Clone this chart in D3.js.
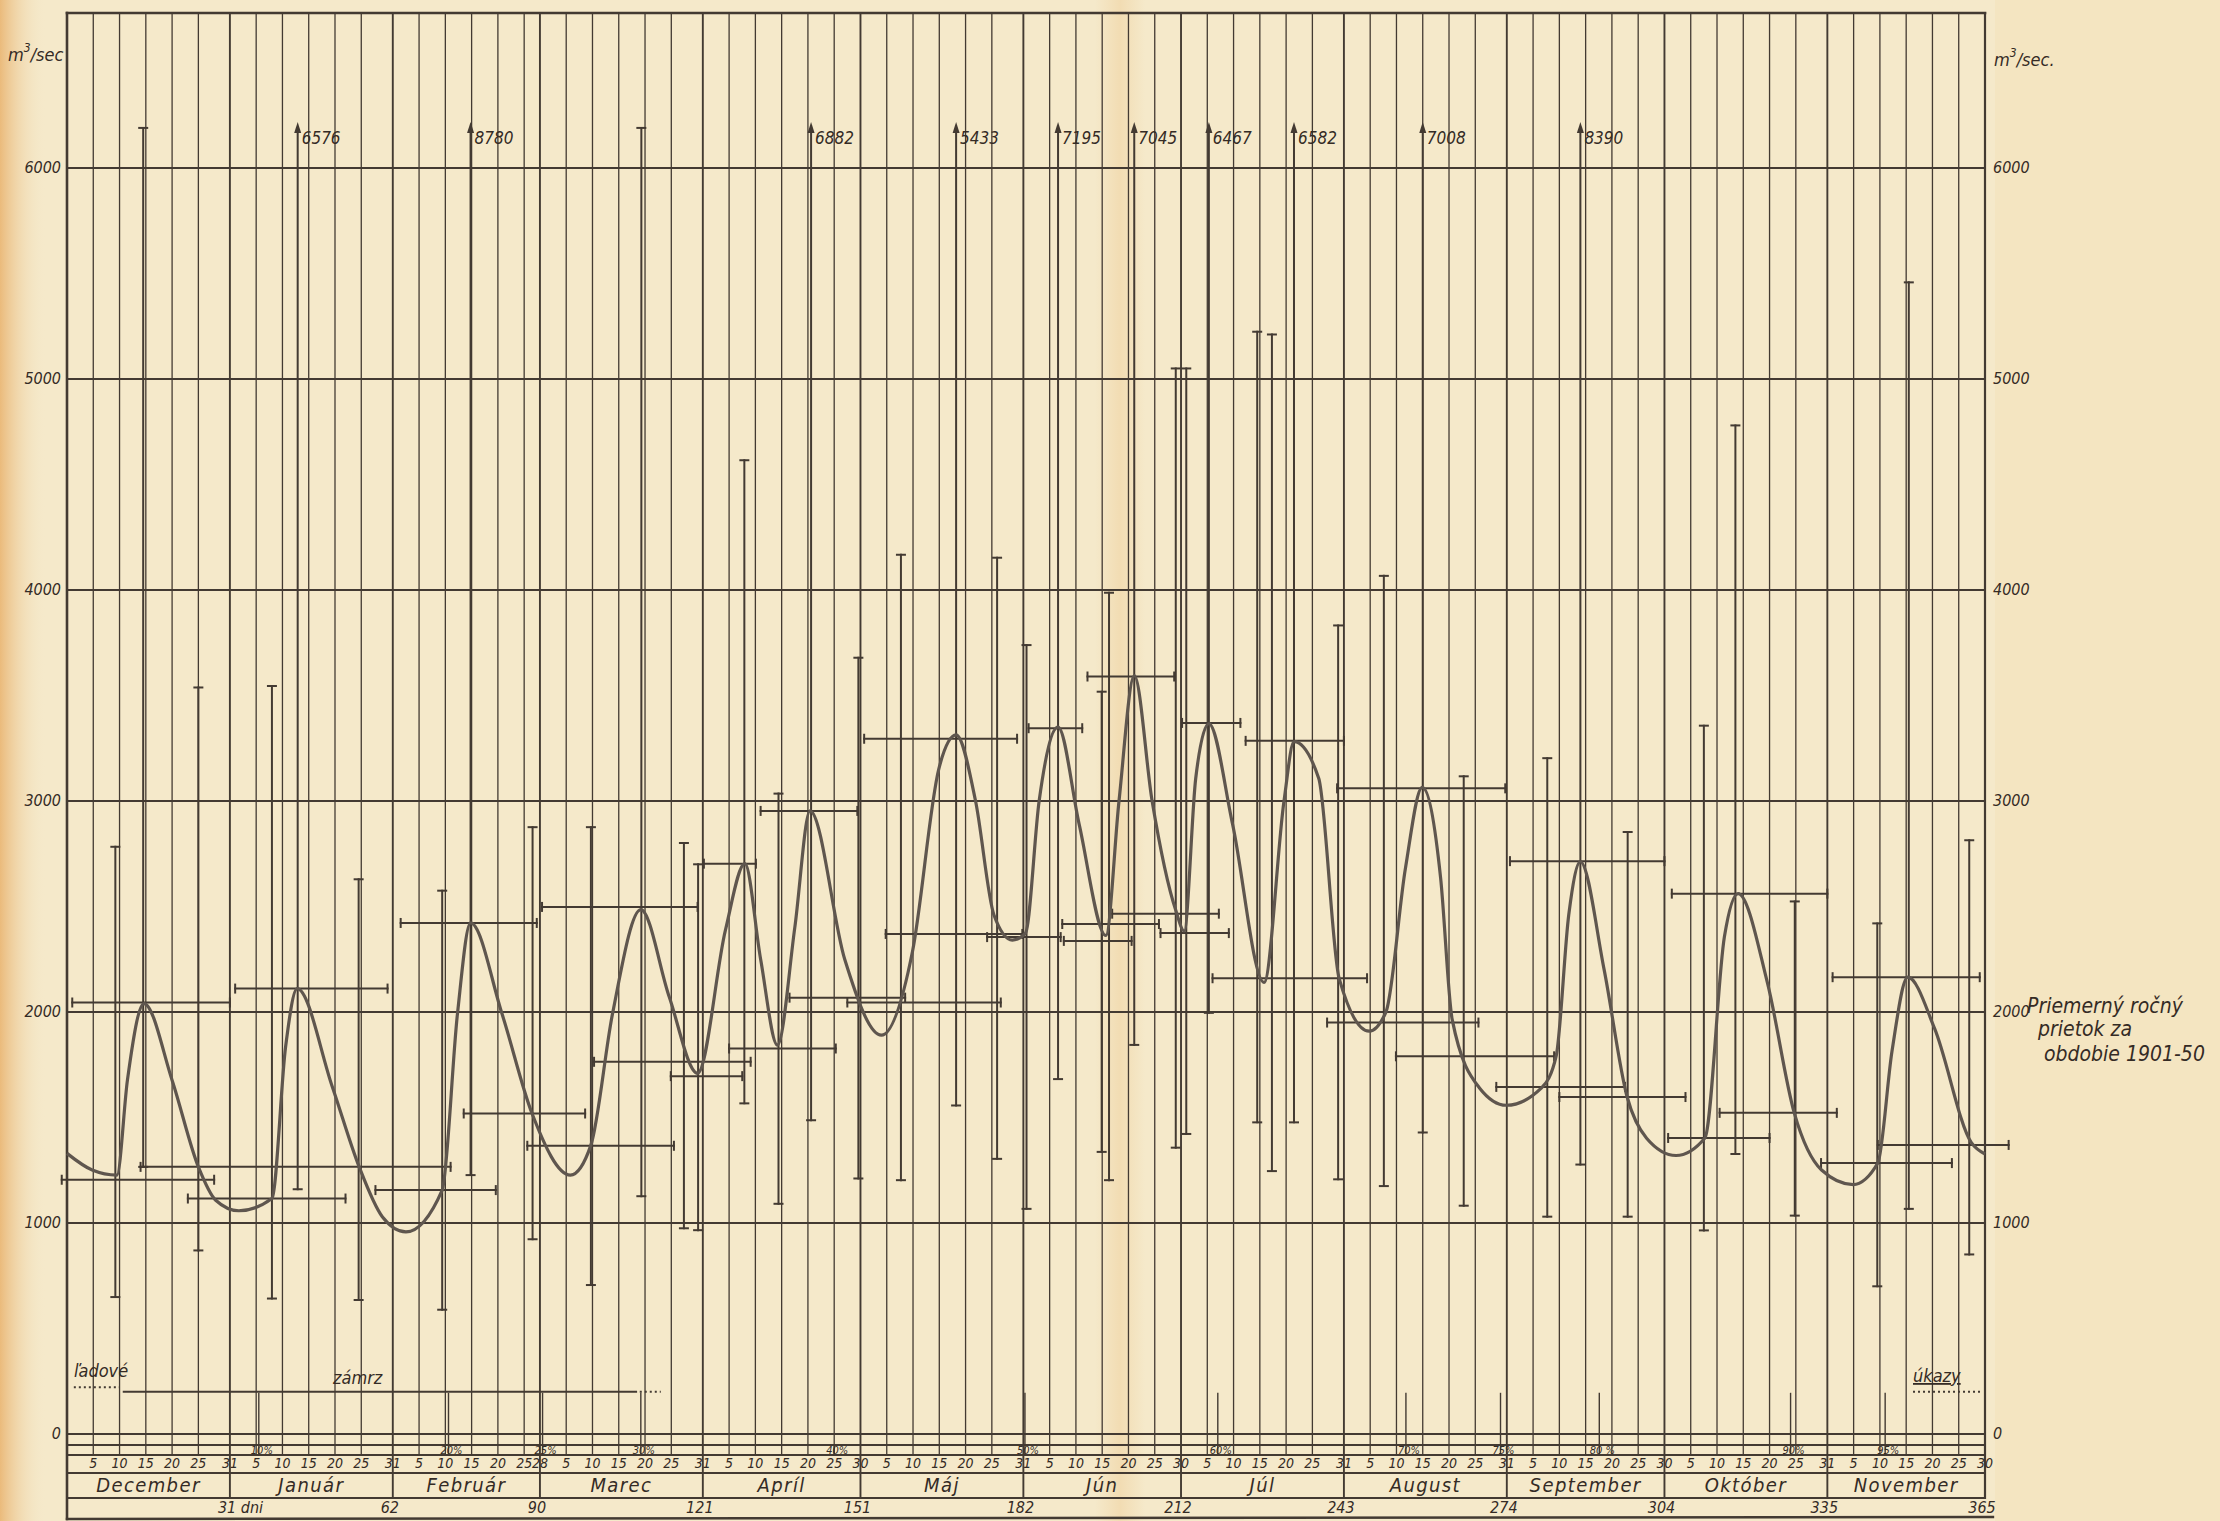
<!DOCTYPE html>
<html>
<head>
<meta charset="utf-8">
<script src="https://cdn.jsdelivr.net/npm/d3@7"></script>
<style>
  html, body { margin: 0; padding: 0; background: #f4e7c7; }
  svg { display: block; }
  text { font-family: "DejaVu Sans Condensed", "DejaVu Sans", sans-serif; font-stretch: condensed; font-style: oblique; fill: #342b25; }
</style>
</head>
<body>
<div id="chart"></div>
<script>
// months of the hydrological year (Dec - Nov)
const months = ['December', 'Január', 'Február', 'Marec', 'Apríl', 'Máj', 'Jún', 'Júl', 'August', 'September', 'Október', 'November'];
const monthDays = [31, 31, 28, 31, 30, 31, 30, 31, 31, 30, 31, 30];
const cumLabels = ['31 dni', '62', '90', '121', '151', '182', '212', '243', '274', '304', '335', '365'];
const dayMarks = [5, 10, 15, 20, 25];
const yTicks = [0, 1000, 2000, 3000, 4000, 5000, 6000];

// smooth curve (day of year, m3/s)
const curveDay = [0, 4.8, 9.5, 11.5, 14.65, 20, 25, 28.3, 32.7, 39, 41.6, 43.8, 50.5, 55.6, 60, 64.5, 71.4, 74.3, 76.8, 82.8,
  88.5, 95.8, 99.7, 103.8, 109.2, 114.6, 120, 125.3, 129, 132, 135.2, 138.5, 141.4, 148, 155, 160.9, 165.9, 169.2, 172.9, 176.4,
  179.9, 182.4, 185, 188.6, 192.6, 197.7, 200.2, 203.1, 206.5, 211, 212.6, 214.8, 217.3, 221.8, 227.8, 231.6, 233.5, 238.2, 242.1, 247.8,
  251, 254.7, 257.9, 261.4, 263.6, 268.8, 273.9, 280.6, 283.4, 285.8, 288, 292.5, 296.9, 300.6, 306.2, 311.7, 315.4, 318, 323.6, 328.7,
  333.9, 339.9, 344.6, 347.3, 350.3, 355.4, 362.4, 365];
const curveValue = [1330, 1251, 1227, 1677, 2040, 1677, 1266, 1108, 1058, 1116, 1835, 2111, 1645, 1266, 1030, 958, 1156, 1990, 2422, 1990,
  1519, 1227, 1369, 1990, 2485, 2072, 1709, 2388, 2703, 2250, 1843, 2400, 2953, 2250, 1890, 2287, 3151, 3313, 3000, 2460,
  2341, 2374, 3000, 3350, 2892, 2363, 3000, 3594, 3000, 2482, 2384, 3108, 3367, 2892, 2140, 3000, 3281, 3108, 2158, 1909,
  2000, 2680, 3065, 2636, 1965, 1640, 1558, 1640, 1792, 2463, 2712, 2203, 1597, 1402, 1320, 1403, 2355, 2561, 2138, 1522,
  1251, 1182, 1284, 1814, 2165, 1922, 1381, 1327];

// horizontal bars (from day, to day, value)
const barFrom = [1, -1, 14, 23, 32, 58.7, 63.5, 75.5, 87.6, 90.4, 100.3, 114.9, 121.2, 126, 132, 137.5, 148.5, 151.7, 155.8, 175.1,
  183, 189.4, 189.7, 194.2, 198.9, 208.1, 212.2, 218, 224.3, 239.8, 241.7, 252.9, 272, 274.6, 284, 304.7, 305.4, 314.5, 333.8, 336, 344.6];
const barTo = [31, 28, 73, 53, 61, 81.6, 89.4, 98.6, 115.5, 120, 130.1, 128.5, 131.1, 146.3, 150.4, 159.5, 177.7, 180.8, 181.8, 189.1,
  193.2, 207.8, 202.6, 210.7, 219.2, 221.1, 223.3, 247.4, 243, 268.6, 273.7, 283, 296.5, 304, 308, 324, 335, 336.8, 358.7, 364, 369.5];
const barValue = [2045, 1205, 1266, 1116, 2111, 1156, 2422, 1519, 1366, 2498, 1764, 1696, 2703, 1827, 2953, 2068, 2045, 3295, 2370, 2355,
  3345, 2417, 2337, 3590, 2466, 2374, 3370, 2160, 3285, 1950, 3060, 1790, 1645, 2715, 1597, 1403, 2561, 1522, 1284, 2165, 1370];

// vertical range lines (day, low, high)
const rangeDay = [9.2, 25, 39, 55.5, 71.4, 88.6, 99.7, 117.4, 120.1, 128.9, 135.4, 150.6, 158.7, 177, 182.6, 196.9, 198.3, 211, 213, 226.5,
  229.3, 241.9, 250.6, 265.8, 281.7, 297, 311.5, 317.5, 328.8, 344.5, 350.5, 362];
const rangeLow = [649, 870, 642, 635, 589, 923, 706, 975, 966, 1567, 1091, 1211, 1203, 1304, 1067, 1337, 1203, 1357, 1422, 1477,
  1246, 1207, 1175, 1082, 1030, 1030, 965, 1327, 1035, 700, 1067, 851];
const rangeHigh = [2783, 3538, 3545, 2629, 2575, 2876, 2876, 2801, 2700, 4615, 3035, 3679, 4167, 4153, 3739, 3518, 3987, 5050, 5050, 5224,
  5211, 3832, 4067, 3117, 3203, 2853, 3357, 4780, 2524, 2420, 5458, 2814];

// ranges capped near the top
const capDay = [14.5, 109.3];
const capLow = [1266, 1127];
const capHigh = 6190;

// ranges running off the chart, with their peak value
const arrowDay = [43.9, 76.8, 141.6, 169.2, 188.6, 203.1, 217.3, 233.5, 258, 288];
const arrowLow = [1160, 1227, 1487, 1557, 1682, 1844, 1996, 1477, 1429, 1277];
const arrowLabel = ['6576', '8780', '6882', '5433', '7195', '7045', '6467', '6582', '7008', '8390'];
const arrowTip = 6218;

// ice phenomena
const pctDay = [36.5, 72.6, 90.5, 109.2, 146, 182.3, 219, 254.8, 272.8, 291.6, 328, 346];
const pctLabel = ['10%', '20%', '25%', '30%', '40%', '50%', '60%', '70%', '75%', '80 %', '90%', '95%'];
const pctTall = [1, 1, 1, 1, 0, 1, 1, 1, 1, 1, 1, 1];
const pctTop = 192;
const iceSolid = [[10.8, 108.3, 200]];
const iceDotted = [[1.3, 10, 222], [109, 113, 200], [351.3, 364.4, 200]];

const W = 2220, H = 1521;
const ink = '#433a32';
const plotTop = 13;

const x = d3.scaleLinear().domain([0, 365]).range([67, 1985]);
const y = d3.scaleLinear().domain([0, 6000]).range([1434, 168]);

const svg = d3.select('#chart').append('svg').attr('width', W).attr('height', H);

// paper
const defs = svg.append('defs');
const edge = defs.append('linearGradient').attr('id', 'edge').attr('x1', 0).attr('x2', 1);
edge.append('stop').attr('offset', 0).attr('stop-color', '#eab877').attr('stop-opacity', 0.95);
edge.append('stop').attr('offset', 1).attr('stop-color', '#f4e7c7').attr('stop-opacity', 0);
const fold = defs.append('linearGradient').attr('id', 'fold').attr('x1', 0).attr('x2', 1);
fold.append('stop').attr('offset', 0).attr('stop-color', '#f1d9ad').attr('stop-opacity', 0);
fold.append('stop').attr('offset', 0.5).attr('stop-color', '#f1d9ad').attr('stop-opacity', 0.8);
fold.append('stop').attr('offset', 1).attr('stop-color', '#f1d9ad').attr('stop-opacity', 0);

svg.append('rect').attr('width', W).attr('height', H).attr('fill', '#f5e9ca');
svg.append('rect').attr('x', 1995).attr('width', W - 1995).attr('height', H).attr('fill', '#f4e5c1');
svg.append('rect').attr('width', 45).attr('height', H).attr('fill', 'url(#edge)');
svg.append('rect').attr('x', 1095).attr('width', 50).attr('height', H).attr('fill', 'url(#fold)');

const g = svg.append('g').attr('stroke', ink).attr('fill', 'none').attr('stroke-linecap', 'square');

// month starts
const monthStart = [0, ...d3.cumsum(monthDays)];

// vertical grid lines every 5 days
const gridDays = [];
months.forEach((m, i) => {
  dayMarks.forEach(k => gridDays.push({ d: monthStart[i] + k, label: k }));
});
g.append('g').selectAll('line').data(gridDays).join('line')
  .attr('x1', d => x(d.d)).attr('x2', d => x(d.d))
  .attr('y1', plotTop).attr('y2', 1455)
  .attr('stroke-width', 1.3);

// month boundaries
g.append('g').selectAll('line').data(monthStart.slice(1)).join('line')
  .attr('x1', d => x(d)).attr('x2', d => x(d))
  .attr('y1', plotTop).attr('y2', 1498)
  .attr('stroke-width', 1.9);

// left, top and right borders
g.append('line').attr('x1', x(0)).attr('x2', x(0)).attr('y1', plotTop).attr('y2', 1519).attr('stroke-width', 2.6);
g.append('line').attr('x1', x(0)).attr('x2', x(365)).attr('y1', plotTop).attr('y2', plotTop).attr('stroke-width', 2.6);
g.append('line').attr('x1', x(365)).attr('x2', x(365)).attr('y1', plotTop).attr('y2', 1498).attr('stroke-width', 2.2);

// horizontal grid
g.append('g').selectAll('line').data(yTicks).join('line')
  .attr('x1', x(0)).attr('x2', x(365))
  .attr('y1', d => y(d)).attr('y2', d => y(d))
  .attr('stroke-width', 1.8);

// table lines under the chart
[1445, 1455, 1473, 1498].forEach(yy => {
  g.append('line').attr('x1', x(0)).attr('x2', x(365)).attr('y1', yy).attr('y2', yy).attr('stroke-width', 2);
});
g.append('line').attr('x1', x(0)).attr('x2', x(365) + 8).attr('y1', 1519).attr('y2', 1517).attr('stroke-width', 2.4);

// y axis labels
const lab = svg.append('g');
lab.selectAll('.yl').data(yTicks).join('text').attr('class', 'yl')
  .attr('x', 61).attr('y', d => y(d) + 5).attr('text-anchor', 'end')
  .attr('font-size', 16).text(d => d);
lab.selectAll('.yr').data(yTicks).join('text').attr('class', 'yr')
  .attr('x', 1993).attr('y', d => y(d) + 5)
  .attr('font-size', 16).text(d => d);

const unitL = lab.append('text').attr('x', 8).attr('y', 61).attr('font-size', 18);
unitL.append('tspan').text('m');
unitL.append('tspan').attr('dy', -9).attr('font-size', 12).text('3');
unitL.append('tspan').attr('dy', 9).text('/sec');
const unitR = lab.append('text').attr('x', 1994).attr('y', 66).attr('font-size', 18);
unitR.append('tspan').text('m');
unitR.append('tspan').attr('dy', -9).attr('font-size', 12).text('3');
unitR.append('tspan').attr('dy', 9).text('/sec.');

// mean annual flow note
const note = lab.append('g').attr('font-size', 21)
  .style('font-family', '"DejaVu Sans", sans-serif').style('font-stretch', 'normal');
note.append('text').attr('x', 2027).attr('y', 1013).text('Priemerný ročný');
note.append('text').attr('x', 2038).attr('y', 1036).text('prietok za');
note.append('text').attr('x', 2044).attr('y', 1061).text('obdobie 1901-50');

// day numbers
const dayLabels = [];
months.forEach((m, i) => {
  dayMarks.forEach(k => dayLabels.push({ d: monthStart[i] + k, t: k }));
  dayLabels.push({ d: monthStart[i + 1], t: monthDays[i] });
});
lab.selectAll('.dn').data(dayLabels).join('text').attr('class', 'dn')
  .attr('x', d => x(d.d)).attr('y', 1468).attr('text-anchor', 'middle')
  .attr('font-size', 14).text(d => d.t);

// month names
lab.selectAll('.mn').data(months).join('text').attr('class', 'mn')
  .attr('x', (d, i) => x((monthStart[i] + monthStart[i + 1]) / 2)).attr('y', 1492)
  .attr('text-anchor', 'middle').attr('font-size', 20).attr('letter-spacing', 1.4).text(d => d);

// cumulative days
lab.selectAll('.cd').data(cumLabels).join('text').attr('class', 'cd')
  .attr('x', (d, i) => i === 0 ? x(monthStart[1]) - 12 : x(monthStart[i + 1]) - 3)
  .attr('y', 1513)
  .attr('text-anchor', (d, i) => i === 0 ? 'start' : 'middle')
  .attr('font-size', 16).text(d => d);

// ice percent ticks
g.append('g').selectAll('line').data(pctDay).join('line')
  .attr('x1', d => x(d)).attr('x2', d => x(d))
  .attr('y1', (d, i) => pctTall[i] ? y(pctTop) : 1445).attr('y2', 1455)
  .attr('stroke-width', 1.4);
lab.selectAll('.pc').data(pctLabel).join('text').attr('class', 'pc')
  .attr('x', (d, i) => x(pctDay[i]) + 3).attr('y', 1453.5).attr('text-anchor', 'middle')
  .attr('font-size', 11).text(d => d);

// ice lines
g.append('g').selectAll('line').data(iceSolid).join('line')
  .attr('x1', d => x(d[0])).attr('x2', d => x(d[1]))
  .attr('y1', d => y(d[2])).attr('y2', d => y(d[2])).attr('stroke-width', 2);
g.append('g').selectAll('line').data(iceDotted).join('line')
  .attr('x1', d => x(d[0])).attr('x2', d => x(d[1]))
  .attr('y1', d => y(d[2])).attr('y2', d => y(d[2]))
  .attr('stroke-width', 2).attr('stroke-dasharray', '2 3').attr('stroke-linecap', 'butt');
lab.append('text').attr('x', 74).attr('y', 1377).attr('font-size', 18).text('ľadové');
lab.append('text').attr('x', 333).attr('y', 1384).attr('font-size', 18).text('zámrz');
lab.append('text').attr('x', 1913).attr('y', 1382).attr('font-size', 18)
  .attr('text-decoration', 'underline').text('úkazy');

// horizontal bars with end ticks
const bars = barFrom.map((d, i) => ({ a: d, b: barTo[i], v: barValue[i] }));
const bg = g.append('g').attr('stroke-width', 2);
bg.selectAll('.bar').data(bars).join('line').attr('class', 'bar')
  .attr('x1', d => x(d.a)).attr('x2', d => x(d.b))
  .attr('y1', d => y(d.v)).attr('y2', d => y(d.v));
bg.selectAll('.bta').data(bars).join('line').attr('class', 'bta')
  .attr('x1', d => x(d.a)).attr('x2', d => x(d.a))
  .attr('y1', d => y(d.v) - 4).attr('y2', d => y(d.v) + 4);
bg.selectAll('.btb').data(bars).join('line').attr('class', 'btb')
  .attr('x1', d => x(d.b)).attr('x2', d => x(d.b))
  .attr('y1', d => y(d.v) - 4).attr('y2', d => y(d.v) + 4);

// vertical ranges with end ticks
const ranges = rangeDay.map((d, i) => ({ d, lo: rangeLow[i], hi: rangeHigh[i], top: true }))
  .concat(capDay.map((d, i) => ({ d, lo: capLow[i], hi: capHigh, top: true })))
  .concat(arrowDay.map((d, i) => ({ d, lo: arrowLow[i], hi: arrowTip, top: false })));
const rg = g.append('g').attr('stroke-width', 2);
rg.selectAll('.rng').data(ranges).join('line').attr('class', 'rng')
  .attr('x1', d => x(d.d)).attr('x2', d => x(d.d))
  .attr('y1', d => y(d.lo)).attr('y2', d => y(d.hi) + (d.top ? 0 : 6));
rg.selectAll('.rlo').data(ranges).join('line').attr('class', 'rlo')
  .attr('x1', d => x(d.d) - 4).attr('x2', d => x(d.d) + 4)
  .attr('y1', d => y(d.lo)).attr('y2', d => y(d.lo));
rg.selectAll('.rhi').data(ranges.filter(r => r.top)).join('line').attr('class', 'rhi')
  .attr('x1', d => x(d.d) - 4).attr('x2', d => x(d.d) + 4)
  .attr('y1', d => y(d.hi)).attr('y2', d => y(d.hi));

// arrowheads and peak values
svg.append('g').selectAll('path').data(arrowDay).join('path')
  .attr('d', d => `M${x(d) - 3.5},${y(arrowTip) + 11}L${x(d)},${y(arrowTip)}L${x(d) + 3.5},${y(arrowTip) + 11}Z`)
  .attr('fill', ink);
lab.selectAll('.al').data(arrowLabel).join('text').attr('class', 'al')
  .attr('x', (d, i) => x(arrowDay[i]) + 4).attr('y', y(arrowTip) + 22)
  .attr('font-size', 17).text(d => d);

// the smooth curve
const line = d3.line()
  .x(d => x(d[0])).y(d => y(d[1]))
  .curve(d3.curveMonotoneX);
svg.append('path')
  .datum(curveDay.map((d, i) => [d, curveValue[i]]))
  .attr('d', line)
  .attr('fill', 'none').attr('stroke', '#5f564e').attr('stroke-width', 3.2)
  .attr('stroke-linejoin', 'round');
</script>
</body>
</html>
